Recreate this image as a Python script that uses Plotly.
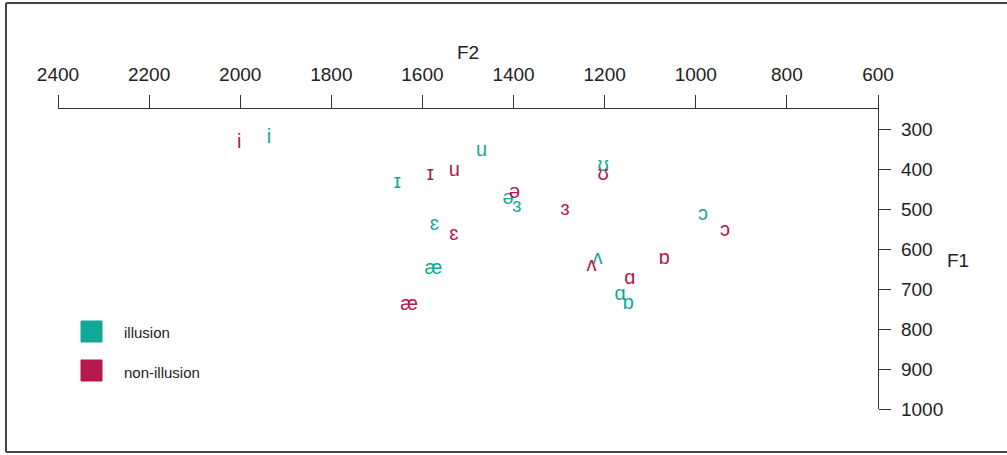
import plotly.graph_objects as go

# Vowel symbols
vowels = ["i", "ɪ", "u", "ʊ", "ɛ", "æ", "ə", "ɜ", "ʌ", "ɑ", "ɒ", "ɔ"]

# Illusion condition (teal)
f2_illusion = [1937, 1655, 1470, 1203, 1574, 1576, 1412, 1393, 1216, 1166, 1148, 984]
f1_illusion = [322, 434, 356, 392, 540, 651, 476, 494, 624, 716, 737, 515]

# Non-illusion condition (crimson)
f2_non = [2002, 1583, 1530, 1203, 1531, 1629, 1398, 1287, 1229, 1145, 1069, 936]
f1_non = [335, 415, 406, 415, 565, 741, 459, 502, 643, 674, 626, 554]

# Axis ticks
f2_ticks = [2400, 2200, 2000, 1800, 1600, 1400, 1200, 1000, 800, 600]
f1_ticks = [300, 400, 500, 600, 700, 800, 900, 1000]

legend_labels = ["illusion", "non-illusion"]
TEAL = "#12A898"
CRIMSON = "#B5174F"

FONT = "Liberation Sans, Arial, DejaVu Sans, sans-serif"

fig = go.Figure()
fig.add_trace(go.Scatter(
    x=f2_illusion, y=f1_illusion, mode="text", text=vowels,
    textposition="middle center",
    textfont=dict(family=FONT, size=20, color=TEAL),
    name=legend_labels[0], hoverinfo="skip", showlegend=False))
fig.add_trace(go.Scatter(
    x=f2_non, y=f1_non, mode="text", text=vowels,
    textposition="middle center",
    textfont=dict(family=FONT, size=20, color=CRIMSON),
    name=legend_labels[1], hoverinfo="skip", showlegend=False))

fig.update_layout(
    width=1007, height=455,
    margin=dict(l=58, r=129, t=109, b=46),
    paper_bgcolor="white", plot_bgcolor="white",
    font=dict(family=FONT, size=19, color="#222"),
    showlegend=False,
    xaxis=dict(
        side="top", range=[2400, 600], tickvals=f2_ticks,
        ticktext=[str(v) for v in f2_ticks],
        showline=True, linecolor="#333", linewidth=1.3,
        ticks="outside", ticklen=13, tickcolor="#333", tickwidth=1.3,
        showgrid=False, zeroline=False,
        tickfont=dict(family=FONT, size=19, color="#222"),
        ticklabelstandoff=6,
    ),
    yaxis=dict(
        side="right", range=[1000, 250], tickvals=f1_ticks,
        ticktext=[str(v) for v in f1_ticks],
        showline=True, linecolor="#333", linewidth=1.3,
        ticks="outside", ticklen=12, tickcolor="#333", tickwidth=1.3,
        showgrid=False, zeroline=False,
        tickfont=dict(family=FONT, size=19, color="#222"),
        ticklabelstandoff=6,
    ),
)

# Axis titles
fig.add_annotation(x=0.5, y=(409 - 52) / 300, xref="paper", yref="paper",
                   text="F2", showarrow=False, xanchor="center", yanchor="middle",
                   font=dict(family=FONT, size=19, color="#222"))
fig.add_annotation(x=(958 - 58) / 820, y=(409 - 260) / 300, xref="paper", yref="paper",
                   text="F1", showarrow=False, xanchor="center", yanchor="middle",
                   font=dict(family=FONT, size=19, color="#222"))

# Legend (manual)
def px_x(p):
    return (p - 58) / 820

def px_y(p):
    return (409 - p) / 300

for (top, col, lab, ty) in [(321, TEAL, legend_labels[0], 332), (360, CRIMSON, legend_labels[1], 372)]:
    fig.add_shape(type="rect", xref="paper", yref="paper",
                  x0=px_x(81), x1=px_x(102), y0=px_y(top + 21), y1=px_y(top),
                  fillcolor=col, line=dict(color=col, width=1))
    fig.add_annotation(x=px_x(122), y=px_y(ty), xref="paper", yref="paper",
                       text=lab, showarrow=False, xanchor="left", yanchor="middle",
                       font=dict(family=FONT, size=15, color="#222"))

# Outer frame (left, top, bottom)
frame = dict(color="#444", width=2)
fig.add_shape(type="line", xref="paper", yref="paper",
              x0=px_x(6), x1=px_x(6), y0=px_y(452), y1=px_y(3), line=frame)
fig.add_shape(type="line", xref="paper", yref="paper",
              x0=px_x(6), x1=px_x(1007), y0=px_y(3), y1=px_y(3), line=frame)
fig.add_shape(type="line", xref="paper", yref="paper",
              x0=px_x(6), x1=px_x(1007), y0=px_y(452), y1=px_y(452), line=frame)

fig.write_html("out.html",
               config={"displayModeBar": False},
               post_script="document.body.style.margin='0px';document.body.style.overflow='hidden';")
